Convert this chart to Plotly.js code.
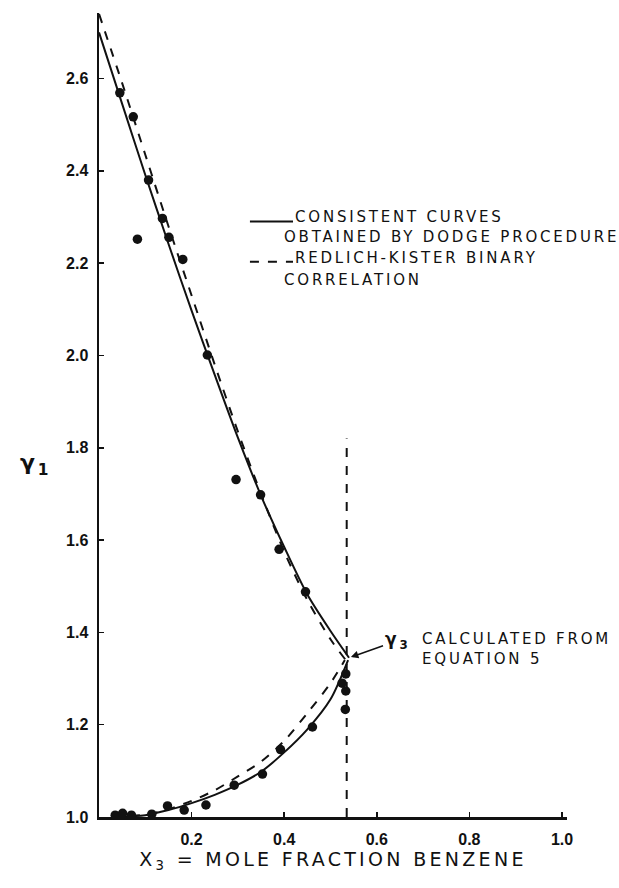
<!DOCTYPE html>
<html>
<head>
<meta charset="utf-8">
<script src="https://cdn.plot.ly/plotly-3.0.1.min.js"></script>
<style>
  html, body { margin: 0; padding: 0; background: #fff; }
  #chart { width: 619px; height: 888px; }
  .annotation-text { letter-spacing: 2.8px; }
  .xtitle { letter-spacing: 3.3px; }
</style>
</head>
<body>
<div id="chart"></div>
<script>
// ---- data ----
// Upper branch (gamma1): consistent curve (solid) and Redlich-Kister (dashed)
const upperSolidX = [0, 0.05, 0.1, 0.15, 0.2, 0.25, 0.3, 0.35, 0.4, 0.45, 0.5, 0.54];
const upperSolidY = [2.70, 2.545, 2.391, 2.242, 2.097, 1.958, 1.822, 1.696, 1.585, 1.482, 1.403, 1.345];
const upperDashX = [0, 0.05, 0.1, 0.15, 0.2, 0.25, 0.3, 0.35, 0.4, 0.45, 0.5, 0.533];
const upperDashY = [2.74, 2.59, 2.435, 2.28, 2.13, 1.98, 1.835, 1.70, 1.575, 1.47, 1.385, 1.34];
// Lower branch
const lowerSolidX = [0.03, 0.1, 0.15, 0.2, 0.25, 0.3, 0.35, 0.4, 0.45, 0.5, 0.538];
const lowerSolidY = [1.0, 1.004, 1.015, 1.03, 1.048, 1.07, 1.098, 1.14, 1.19, 1.255, 1.34];
const lowerDashX = [0.03, 0.1, 0.15, 0.2, 0.25, 0.3, 0.35, 0.4, 0.45, 0.5, 0.531];
const lowerDashY = [1.0, 1.005, 1.017, 1.035, 1.058, 1.088, 1.12, 1.165, 1.225, 1.29, 1.34];
// Experimental points
const upperPtsX = [0.045, 0.074, 0.083, 0.107, 0.137, 0.151, 0.181, 0.234, 0.296, 0.349, 0.389, 0.446, 0.533, 0.525, 0.533, 0.532];
const upperPtsY = [2.569, 2.517, 2.252, 2.380, 2.297, 2.256, 2.208, 2.001, 1.731, 1.698, 1.580, 1.488, 1.31, 1.29, 1.273, 1.233];
const lowerPtsX = [0.035, 0.051, 0.070, 0.114, 0.148, 0.184, 0.231, 0.292, 0.353, 0.392, 0.461];
const lowerPtsY = [1.004, 1.008, 1.004, 1.006, 1.024, 1.015, 1.026, 1.069, 1.093, 1.146, 1.195];
// Vertical dashed line
const vLineX = [0.535, 0.535];
const vLineY = [1.0, 1.82];
// Point where gamma3 is calculated
const gamma3X = 0.54;
const gamma3Y = 1.345;
// Ticks
const xTickVals = [0.2, 0.4, 0.6, 0.8, 1.0];
const xTickText = ['0.2', '0.4', '0.6', '0.8', '1.0'];
const yTickVals = [1.0, 1.2, 1.4, 1.6, 1.8, 2.0, 2.2, 2.4, 2.6];
const yTickText = ['1.0', '1.2', '1.4', '1.6', '1.8', '2.0', '2.2', '2.4', '2.6'];
// Legend texts
const legendSolidText = ['CONSISTENT CURVES', 'OBTAINED BY DODGE PROCEDURE'];
const legendDashText = ['REDLICH-KISTER BINARY', 'CORRELATION'];

const black = '#111';
const lineStyle = (dash) => ({color: black, width: 2, dash: dash, shape: 'spline', smoothing: 0.8});

const traces = [
  {x: upperSolidX, y: upperSolidY, mode: 'lines', line: lineStyle('solid'), hoverinfo: 'skip'},
  {x: upperDashX, y: upperDashY, mode: 'lines', line: lineStyle('dash'), hoverinfo: 'skip'},
  {x: lowerSolidX, y: lowerSolidY, mode: 'lines', line: lineStyle('solid'), hoverinfo: 'skip'},
  {x: lowerDashX, y: lowerDashY, mode: 'lines', line: lineStyle('dash'), hoverinfo: 'skip'},
  {x: vLineX, y: vLineY, mode: 'lines', line: {color: black, width: 2, dash: 'dash'}, hoverinfo: 'skip'},
  {x: upperPtsX, y: upperPtsY, mode: 'markers', marker: {color: black, size: 9.5}, cliponaxis: false},
  {x: lowerPtsX, y: lowerPtsY, mode: 'markers', marker: {color: black, size: 9.5}, cliponaxis: false}
];

const font = {family: '"DejaVu Sans", sans-serif', color: black};
const textFont = Object.assign({}, font, {size: 15});
const tickFont = {family: '"Liberation Sans", Arial, sans-serif', size: 16, color: black, weight: 'bold'};

const annotations = [
  // legend texts
  {x: 0.419, y: 2.300, xref: 'x', yref: 'y', xanchor: 'left', yanchor: 'middle', text: legendSolidText[0], showarrow: false, font: textFont},
  {x: 0.395, y: 2.257, xref: 'x', yref: 'y', xanchor: 'left', yanchor: 'middle', text: legendSolidText[1], showarrow: false, font: textFont},
  {x: 0.419, y: 2.211, xref: 'x', yref: 'y', xanchor: 'left', yanchor: 'middle', text: legendDashText[0], showarrow: false, font: textFont},
  {x: 0.395, y: 2.163, xref: 'x', yref: 'y', xanchor: 'left', yanchor: 'middle', text: legendDashText[1], showarrow: false, font: textFont},
  // gamma3 label with arrow
  {x: gamma3X, y: gamma3Y, xref: 'x', yref: 'y', text: 'γ<sub>3</sub>', showarrow: true,
   ax: 48, ay: -17, arrowhead: 2, arrowsize: 1, arrowwidth: 1.5, arrowcolor: black, standoff: 2,
   font: Object.assign({}, font, {size: 17, weight: 'bold'})},
  {x: 0.693, y: 1.364, xref: 'x', yref: 'y', xanchor: 'left', yanchor: 'middle', align: 'left',
   text: 'CALCULATED FROM<br>EQUATION 5', showarrow: false, font: textFont},
  // y-axis title
  {x: -0.135, y: 1.763, xref: 'paper', yref: 'y', xanchor: 'center', yanchor: 'middle',
   text: 'γ<sub>1</sub>', showarrow: false, font: Object.assign({}, font, {size: 22, weight: 'bold'})}
];

const shapes = [
  {type: 'line', xref: 'x', yref: 'y', x0: 0.326, x1: 0.419, y0: 2.290, y1: 2.290, line: {color: black, width: 2}},
  {type: 'line', xref: 'x', yref: 'y', x0: 0.326, x1: 0.419, y0: 2.203, y1: 2.203, line: {color: black, width: 2, dash: 'dash'}}
];

const layout = {
  width: 619, height: 888,
  margin: {l: 99, r: 52, t: 13, b: 71},
  paper_bgcolor: '#fff', plot_bgcolor: '#fff',
  showlegend: false,
  font: font,
  xaxis: {
    range: [0, 1.0108], showgrid: false, zeroline: false,
    showline: true, linecolor: black, linewidth: 2.5,
    ticks: 'inside', ticklen: 5, tickwidth: 1.5, tickcolor: black,
    tickvals: xTickVals, ticktext: xTickText, ticklabelstandoff: 6,
    tickfont: tickFont,
    title: {text: 'X<sub>3</sub> = MOLE FRACTION BENZENE', standoff: 3,
            font: {family: '"DejaVu Sans", sans-serif', size: 19, color: black}}
  },
  yaxis: {
    range: [1.0, 2.742], showgrid: false, zeroline: false,
    showline: true, linecolor: black, linewidth: 2.5,
    ticks: 'inside', ticklen: 5, tickwidth: 1.5, tickcolor: black,
    tickvals: yTickVals, ticktext: yTickText, ticklabelstandoff: 5,
    tickfont: tickFont
  },
  annotations: annotations,
  shapes: shapes
};

Plotly.newPlot('chart', traces, layout, {displayModeBar: false, staticPlot: true});
</script>
</body>
</html>
